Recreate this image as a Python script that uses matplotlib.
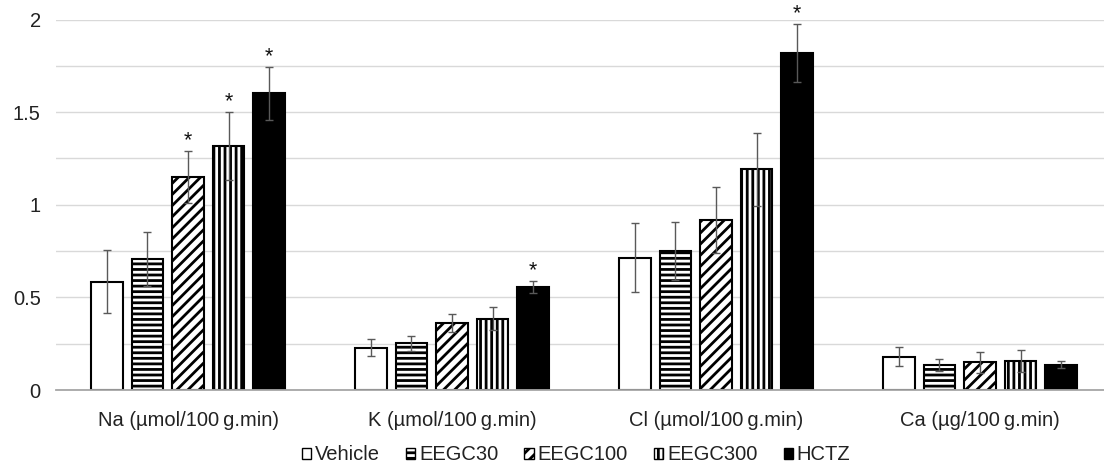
import matplotlib
matplotlib.use("Agg")
import matplotlib.pyplot as plt
import numpy as np
from matplotlib.patches import Patch

plt.rcParams['font.family'] = ['Liberation Sans', 'DejaVu Sans']
plt.rcParams['hatch.linewidth'] = 2.0

categories = ["Na (\u00b5mol/100\u2009g.min)", "K (\u00b5mol/100\u2009g.min)",
              "Cl (\u00b5mol/100\u2009g.min)", "Ca (\u00b5g/100\u2009g.min)"]
series = ["Vehicle", "EEGC30", "EEGC100", "EEGC300", "HCTZ"]

vehicle = [0.585, 0.228, 0.714, 0.180]
eegc30 = [0.707, 0.252, 0.750, 0.135]
eegc100 = [1.151, 0.360, 0.916, 0.149]
eegc300 = [1.317, 0.385, 1.191, 0.155]
hctz = [1.602, 0.558, 1.818, 0.137]

vehicle_err = [0.170, 0.045, 0.187, 0.050]
eegc30_err = [0.145, 0.040, 0.155, 0.034]
eegc100_err = [0.140, 0.049, 0.178, 0.056]
eegc300_err = [0.183, 0.061, 0.198, 0.059]
hctz_err = [0.143, 0.032, 0.158, 0.018]

# significance markers: (category index, series index)
significant = [(0, 2), (0, 3), (0, 4), (1, 4), (2, 4)]

values = [vehicle, eegc30, eegc100, eegc300, hctz]
errors = [vehicle_err, eegc30_err, eegc100_err, eegc300_err, hctz_err]
hatches = ["", "---", "///", "|||", ""]
faces = ["white", "white", "white", "white", "black"]

W, H = 1104, 468
fig = plt.figure(figsize=(W / 100, H / 100), dpi=100)
ax_left, ax_right = 56, 1112
ax_top, ax_bottom = 19.5, 390
ax = fig.add_axes([ax_left / W, (H - ax_bottom) / H,
                   (ax_right - ax_left) / W, (ax_bottom - ax_top) / H])

x = np.arange(len(categories))
pitch = 0.1535
width = 0.121
for i, (vals, errs) in enumerate(zip(values, errors)):
    pos = x + (i - 2) * pitch
    ax.bar(pos, vals, width, facecolor=faces[i], edgecolor="black",
           linewidth=1.5, hatch=hatches[i], label=series[i], zorder=2)
    ax.errorbar(pos, vals, yerr=errs, fmt="none", ecolor="#595959",
                elinewidth=1.0, capsize=3, capthick=1.0, zorder=3)

for ci, si in significant:
    xpos = x[ci] + (si - 2) * pitch
    ytop = values[si][ci] + errors[si][ci]
    ax.text(xpos, ytop + 0.025, "*", ha="center", va="baseline",
            fontsize=15.5, color="#111111")

ax.set_xlim(-0.5, len(categories) - 0.5)
ax.set_ylim(0, 2)
ax.set_yticks(np.arange(0, 2.01, 0.5))
ax.set_yticklabels(["0", "0.5", "1", "1.5", "2"])
ax.set_yticks(np.arange(0, 2.01, 0.25), minor=True)
ax.grid(axis="y", which="both", color="#d9d9d9", linewidth=1.0, zorder=0)
ax.set_axisbelow(True)
ax.set_xticks(x)
ax.set_xticklabels(categories)
ax.tick_params(axis="both", which="both", length=0, labelsize=14.5,
               colors="#222222")
ax.tick_params(axis="x", pad=15)
ax.tick_params(axis="y", pad=11)
for s in ["top", "right", "left"]:
    ax.spines[s].set_visible(False)
ax.spines["bottom"].set_color("#a6a6a6")
ax.spines["bottom"].set_linewidth(1.3)
ax.spines["bottom"].set_zorder(4)

handles = [Patch(facecolor=faces[i], edgecolor="black", hatch=hatches[i],
                 linewidth=1.0, label=series[i]) for i in range(5)]
fig.legend(handles=handles, loc="center", bbox_to_anchor=(576 / W, 1 - 455 / H),
           ncol=5, frameon=False, fontsize=14.5, handlelength=0.45,
           handleheight=0.45, handletextpad=0.2, columnspacing=1.3,
           labelcolor="#222222")

fig.savefig("out.png", dpi=100)
